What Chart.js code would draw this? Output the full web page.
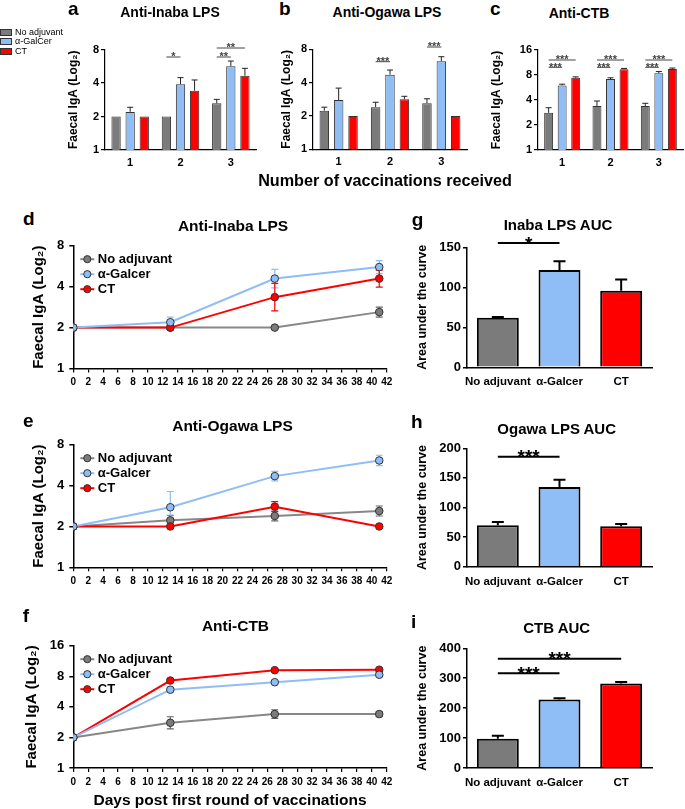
<!DOCTYPE html>
<html>
<head>
<meta charset="utf-8">
<script src="https://cdn.jsdelivr.net/npm/chart.js@4.4.0/dist/chart.umd.min.js"></script>
<style>
  body { margin: 0; background: #fff; }
  #fig { position: relative; width: 685px; height: 809px; overflow: hidden; font-family: 'Liberation Sans', Arial, sans-serif; color: #000; }
  #fig canvas { position: absolute; }
  .txt { position: absolute; font-weight: bold; line-height: 1; white-space: nowrap; }
  .box { position: absolute; border: 1px solid #333; box-sizing: border-box; }
</style>
</head>
<body>
<div id="fig"></div>
<script>
// ---------- data ----------
const rounds = ['1', '2', '3'];
const groupNames = ['No adjuvant', 'α-GalCer', 'CT'];
const lineNames = ['No adjuvant', 'α-Galcer', 'CT'];
const aucLabels = ['No adjuvant', 'α-Galcer', 'CT'];
const days = [0, 13, 27, 41];
const log2Ticks8 = [1, 2, 4, 8];
const log2Ticks16 = [1, 2, 4, 8, 16];

// a - anti-Inaba LPS per vaccination (mean and mean+SEM)
const inabaNoAdj = [2, 2, 2.63];
const inabaNoAdjHi = [2, 2, 2.85];
const inabaGal = [2.2, 3.9, 5.66];
const inabaGalHi = [2.42, 4.47, 6.3];
const inabaCT = [2, 3.41, 4.65];
const inabaCTHi = [2, 4.26, 5.42];

// b - anti-Ogawa LPS
const ogawaNoAdj = [2.23, 2.4, 2.61];
const ogawaNoAdjHi = [2.4, 2.66, 2.86];
const ogawaGal = [2.79, 4.72, 6.25];
const ogawaGalHi = [3.57, 5.2, 6.86];
const ogawaCT = [2, 2.83, 2];
const ogawaCTHi = [2, 3.01, 2];

// c - anti-CTB
const ctbNoAdj = [2.81, 3.39, 3.39];
const ctbNoAdjHi = [3.23, 3.89, 3.65];
const ctbGal = [6.0, 7.16, 8.4];
const ctbGalHi = [6.2, 7.4, 8.8];
const ctbCT = [7.4, 9.37, 9.45];
const ctbCTHi = [7.6, 9.6, 9.7];

// d - Inaba time course
const inabaNoAdjT = [2, 2, 2, 2.6];
const inabaNoAdjTHi = [2, 2.08, 2, 2.83];
const inabaGalT = [2, 2.19, 4.59, 5.58];
const inabaGalTHi = [2, 2.39, 5.37, 6.23];
const inabaCTT = [2, 2, 3.35, 4.59];
const inabaCTTHi = [2, 2, 4.23, 5.3];

// e - Ogawa time course
const ogawaNoAdjT = [2, 2.22, 2.39, 2.6];
const ogawaNoAdjTHi = [2, 2.42, 2.6, 2.83];
const ogawaGalT = [2, 2.77, 4.7, 6.13];
const ogawaGalTHi = [2, 3.62, 5.1, 6.7];
const ogawaCTT = [2, 2, 2.8, 2];
const ogawaCTTHi = [2, 2, 3.05, 2];

// f - CTB time course
const ctbNoAdjT = [2, 2.79, 3.4, 3.4];
const ctbNoAdjTHi = [2, 3.2, 3.75, 3.6];
const ctbGalT = [2, 5.91, 7.0, 8.3];
const ctbGalTHi = [2, 6.1, 7.2, 8.6];
const ctbCTT = [2, 7.27, 9.2, 9.3];
const ctbCTTHi = [2, 7.5, 9.4, 9.5];

// g, h, i - area under the curve
const inabaAuc = [62, 121.7, 95.8];
const inabaAucHi = [63, 132.5, 109.6];
const ogawaAuc = [70.2, 134.8, 68.5];
const ogawaAucHi = [75.3, 147, 72];
const ctbAuc = [97.8, 228.9, 282];
const ctbAucHi = [107.8, 233, 287.8];

// significance marks: [datasetIndex, pointIndex] ends
const inabaSig = [
  { text: '*', from: [0, 1], to: [1, 1] },
  { text: '**', from: [0, 2], to: [1, 2] },
  { text: '**', from: [0, 2], to: [2, 2] }
];
const ogawaSig = [
  { text: '***', from: [0, 1], to: [1, 1] },
  { text: '***', from: [0, 2], to: [1, 2] }
];
const ctbSig = [
  { text: '***', from: [0, 0], to: [1, 0] }, { text: '***', from: [0, 0], to: [2, 0] },
  { text: '***', from: [0, 1], to: [1, 1] }, { text: '***', from: [0, 1], to: [2, 1] },
  { text: '***', from: [0, 2], to: [1, 2] }, { text: '***', from: [0, 2], to: [2, 2] }
];
const inabaAucSig = [{ text: '*', from: [0, 0], to: [0, 1] }];
const ogawaAucSig = [{ text: '***', from: [0, 0], to: [0, 1] }];
const ctbAucSig = [{ text: '***', from: [0, 0], to: [0, 1] }, { text: '***', from: [0, 0], to: [0, 2] }];

// ---------- look ----------
const FONT = "'Liberation Sans', Arial, sans-serif";
const GRAY = '#7b7b7b', BLUE = '#8fbdf5', RED = '#ff0000';
const LINE_GRAY = '#878787';
Chart.defaults.font.family = FONT;
Chart.defaults.font.weight = 'bold';
Chart.defaults.color = '#000';
Chart.defaults.animation = false;

const fig = document.getElementById('fig');

// error bars: vertical whisker from point to mean+SEM (mirrored for line charts)
function drawErr(chart, opts) {
  const ctx = chart.ctx;
  chart.data.datasets.forEach((ds, i) => {
    if (!ds.errHi) return;
    const meta = chart.getDatasetMeta(i);
    const yScale = chart.scales[meta.yAxisID];
    ctx.save();
    ctx.strokeStyle = ds.errColor || opts.color;
    ctx.lineWidth = opts.width;
    meta.data.forEach((el, j) => {
      const yTop = yScale.getPixelForValue(ds.errHi[j]);
      if (el.y - yTop < 0.5) return;
      const yBot = opts.both ? 2 * el.y - yTop : el.y;
      ctx.beginPath();
      ctx.moveTo(el.x, yBot); ctx.lineTo(el.x, yTop);
      ctx.moveTo(el.x - opts.cap, yTop); ctx.lineTo(el.x + opts.cap, yTop);
      if (opts.both) { ctx.moveTo(el.x - opts.cap, yBot); ctx.lineTo(el.x + opts.cap, yBot); }
      ctx.stroke();
    });
    ctx.restore();
  });
}
const errorBars = {
  id: 'errorBars',
  beforeDatasetsDraw(chart, args, opts) { if (opts.under) drawErr(chart, opts); },
  afterDatasetsDraw(chart, args, opts) { if (opts.color && !opts.under) drawErr(chart, opts); }
};

// significance brackets with stars
const sigBars = {
  id: 'sigBars',
  afterDatasetsDraw(chart, args, opts) {
    if (!opts.items) return;
    const ctx = chart.ctx, top = chart.chartArea.top;
    ctx.save();
    ctx.strokeStyle = opts.color; ctx.fillStyle = opts.color; ctx.lineWidth = opts.width;
    ctx.font = 'bold ' + opts.size + 'px ' + FONT;
    ctx.textAlign = 'center'; ctx.textBaseline = 'alphabetic';
    opts.items.forEach((it, k) => {
      const xa = chart.getDatasetMeta(it.from[0]).data[it.from[1]].x;
      const xb = chart.getDatasetMeta(it.to[0]).data[it.to[1]].x;
      const y = top + opts.dy[k];
      ctx.beginPath(); ctx.moveTo(xa, y); ctx.lineTo(xb, y); ctx.stroke();
      ctx.fillText(it.text, (xa + xb) / 2, y + opts.size * 0.43 - 1.5);
    });
    ctx.restore();
  }
};

// in-plot legend for the time-course panels: short line, marker, label
const lineLegend = {
  id: 'lineLegend',
  afterDatasetsDraw(chart, args, opts) {
    if (!opts.names) return;
    const ctx = chart.ctx, a = chart.chartArea;
    ctx.save();
    ctx.font = 'bold 13px ' + FONT;
    ctx.textBaseline = 'middle'; ctx.textAlign = 'left';
    opts.names.forEach((name, k) => {
      const ds = chart.data.datasets[k];
      const x = a.left + opts.left, y = a.top + opts.top + k * opts.gap;
      ctx.strokeStyle = ds.borderColor; ctx.lineWidth = 2;
      ctx.beginPath(); ctx.moveTo(x, y); ctx.lineTo(x + 14, y); ctx.stroke();
      ctx.fillStyle = ds.pointBackgroundColor; ctx.strokeStyle = '#333'; ctx.lineWidth = 1;
      ctx.beginPath(); ctx.arc(x + 7, y, 3.6, 0, Math.PI * 2); ctx.fill(); ctx.stroke();
      ctx.fillStyle = '#000';
      ctx.fillText(name, x + 17.5, y + 0.5);
    });
    ctx.restore();
  }
};
Chart.register(errorBars, sigBars, lineLegend);

// canvas placed so that the plot area lands on g.l..g.r / g.t..g.b
function makeCanvas(g) {
  const L = Math.round(g.titleX - g.titleSize / 2);
  const T = Math.round(g.t - g.padTop);
  const W = Math.round(g.r + g.padRight - L);
  const H = Math.round(g.b + g.xH - T);
  const c = document.createElement('canvas');
  c.width = W; c.height = H;
  c.style.left = L + 'px'; c.style.top = T + 'px';
  fig.appendChild(c);
  return { c, yW: g.l - L, padTop: g.t - T, padRight: W - (g.r - L), xH: H - (g.b - T) };
}

function addText(str, x, baseline, size, align, weight) {
  const d = document.createElement('div');
  d.className = 'txt';
  d.textContent = str;
  d.style.fontSize = size + 'px';
  d.style.top = (baseline - 0.8465 * size) + 'px';
  if (weight) d.style.fontWeight = weight;
  d.style.left = x + 'px';
  if (align === 'center') d.style.transform = 'translateX(-50%)';
  fig.appendChild(d);
}

function logY(max, ticks, size, titleSize, tickPad, bw) {
  return {
    type: 'logarithmic', min: 1, max: max,
    afterBuildTicks: s => { s.ticks = ticks.map(v => ({ value: v })); },
    ticks: { font: { size: size }, padding: tickPad, callback: v => v },
    grid: { drawOnChartArea: false, tickLength: 4, color: '#000', lineWidth: bw },
    border: { color: '#000', width: bw },
    title: { display: true, text: 'Faecal IgA (Log₂)', font: { size: titleSize, lineHeight: 1 }, padding: 0 }
  };
}

// ---------- top row: a, b, c ----------
function topPanel(g, series, his, yMax, ticks, sig, dy) {
  const p = makeCanvas(g);
  const colors = [GRAY, BLUE, RED];
  const y = logY(yMax, ticks, 11, 12, 2, 1.2);
  y.afterFit = s => { s.width = p.yW; };
  new Chart(p.c, {
    type: 'bar',
    data: {
      labels: rounds,
      datasets: series.map((d, i) => ({
        label: groupNames[i], data: d, errHi: his[i],
        backgroundColor: colors[i], borderColor: '#333', borderWidth: 1, borderSkipped: 'start'
      }))
    },
    options: {
      responsive: false,
      layout: { padding: { top: p.padTop, right: p.padRight, left: 0, bottom: 0 } },
      datasets: { bar: { categoryPercentage: 0.84, barPercentage: 0.66 } },
      plugins: {
        legend: { display: false }, tooltip: { enabled: false },
        errorBars: { color: '#222', width: 1, cap: 3 },
        sigBars: { items: sig, dy: dy, size: 11, width: 1, color: '#444' }
      },
      scales: {
        x: {
          grid: { display: false, drawTicks: false }, border: { color: '#000', width: 1.2 },
          ticks: { font: { size: 11 }, padding: 6, maxRotation: 0, autoSkip: false },
          afterFit: s => { s.height = p.xH; }
        },
        y: y
      }
    }
  });
}

topPanel({ l: 105, r: 256, t: 49.5, b: 150, titleX: 74, titleSize: 12, padTop: 14, padRight: 4, xH: 22 },
  [inabaNoAdj, inabaGal, inabaCT], [inabaNoAdjHi, inabaGalHi, inabaCTHi], 8, log2Ticks8, inabaSig, [7.5, 7.5, -1.5]);
topPanel({ l: 313, r: 467, t: 49.3, b: 149.3, titleX: 287, titleSize: 12, padTop: 14, padRight: 4, xH: 22 },
  [ogawaNoAdj, ogawaGal, ogawaCT], [ogawaNoAdjHi, ogawaGalHi, ogawaCTHi], 8, log2Ticks8, ogawaSig, [12.4, -2.3]);
topPanel({ l: 538, r: 683, t: 50, b: 150, titleX: 497, titleSize: 12, padTop: 14, padRight: 2, xH: 22 },
  [ctbNoAdj, ctbGal, ctbCT], [ctbNoAdjHi, ctbGalHi, ctbCTHi], 16, log2Ticks16, ctbSig, [17.3, 10, 17.3, 10, 17.3, 10]);

// legend for the top row
[GRAY, BLUE, RED].forEach((col, i) => {
  const yc = [32.3, 41.7, 51.5][i];
  const b = document.createElement('div');
  b.className = 'box';
  Object.assign(b.style, { left: '0px', top: (yc - 3.5) + 'px', width: '12px', height: '7px', background: col });
  fig.appendChild(b);
  addText(groupNames[i], 15, yc + 3.3, 9, 'left', 'normal');
});

addText('a', 68, 15, 19); addText('b', 279, 15, 19); addText('c', 490, 15, 19);
addText('Anti-Inaba LPS', 170, 16.7, 14, 'center');
addText('Anti-Ogawa LPS', 387, 16.7, 14, 'center');
addText('Anti-CTB', 579, 18.3, 14, 'center');
addText('Number of vaccinations received', 385, 186, 16.2, 'center');

// ---------- left column: d, e, f ----------
function linePanel(g, series, his, yMax, ticks, xTitle) {
  const p = makeCanvas(g);
  const lineCols = [LINE_GRAY, BLUE, RED];
  const fillCols = [GRAY, BLUE, RED];
  const errCols = ['#666', BLUE, RED];
  const drawOrder = [2, 0, 1];
  const y = logY(yMax, ticks, 13, 15, 5, 1.5);
  y.afterFit = s => { s.width = p.yW; };
  new Chart(p.c, {
    type: 'line',
    data: {
      datasets: series.map((d, i) => ({
        label: lineNames[i],
        data: days.map((day, k) => ({ x: day, y: d[k] })),
        errHi: his[i], errColor: errCols[i], order: drawOrder[i],
        borderColor: lineCols[i], backgroundColor: fillCols[i], borderWidth: 2,
        pointBackgroundColor: fillCols[i], pointBorderColor: '#333', pointBorderWidth: 1, pointRadius: 3.8
      }))
    },
    options: {
      responsive: false,
      layout: { padding: { top: p.padTop, right: p.padRight, left: 0, bottom: 0 } },
      plugins: {
        tooltip: { enabled: false },
        legend: { display: false },
        errorBars: { under: true, color: '#666', width: 1.2, cap: 3.5, both: true },
        lineLegend: { names: lineNames, left: 7, top: 13.4, gap: 15 }
      },
      scales: {
        x: {
          type: 'linear', min: 0, max: 42,
          ticks: { stepSize: 2, autoSkip: false, maxRotation: 0, font: { size: 10 }, padding: 4 },
          grid: { drawOnChartArea: false, tickLength: 4, color: '#000', lineWidth: 1.2 },
          border: { color: '#000', width: 1.5 },
          title: { display: !!xTitle, text: xTitle || '', font: { size: 15.5, lineHeight: 1 }, padding: 0 },
          afterFit: s => { s.height = p.xH; }
        },
        y: y
      }
    }
  });
}

linePanel({ l: 73.3, r: 386.7, t: 243.3, b: 368.5, titleX: 38, titleSize: 15, padTop: 10, padRight: 10, xH: 22 },
  [inabaNoAdjT, inabaGalT, inabaCTT], [inabaNoAdjTHi, inabaGalTHi, inabaCTTHi], 8, log2Ticks8);
linePanel({ l: 73.3, r: 386.7, t: 442.3, b: 567.3, titleX: 38, titleSize: 15, padTop: 10, padRight: 10, xH: 22 },
  [ogawaNoAdjT, ogawaGalT, ogawaCTT], [ogawaNoAdjTHi, ogawaGalTHi, ogawaCTTHi], 8, log2Ticks8);
linePanel({ l: 73.3, r: 386.7, t: 642.7, b: 768, titleX: 31, titleSize: 15, padTop: 10, padRight: 10, xH: 40 },
  [ctbNoAdjT, ctbGalT, ctbCTT], [ctbNoAdjTHi, ctbGalTHi, ctbCTTHi], 16, log2Ticks16,
  'Days post first round of vaccinations');

addText('d', 23, 225, 19); addText('e', 23, 426.7, 19); addText('f', 22.7, 621.7, 19);
addText('Anti-Inaba LPS', 233, 231, 15.5, 'center');
addText('Anti-Ogawa LPS', 232.5, 430.7, 15.5, 'center');
addText('Anti-CTB', 235.5, 631, 15.5, 'center');

// ---------- right column: g, h, i ----------
function aucPanel(g, vals, hi, yMax, step, sig, dy) {
  const p = makeCanvas(g);
  new Chart(p.c, {
    type: 'bar',
    data: {
      labels: aucLabels,
      datasets: [{
        data: vals, errHi: hi,
        backgroundColor: [GRAY, BLUE, RED], borderColor: '#000', borderWidth: 2
      }]
    },
    options: {
      responsive: false,
      layout: { padding: { top: p.padTop, right: p.padRight, left: 0, bottom: 0 } },
      datasets: { bar: { categoryPercentage: 1, barPercentage: 0.68 } },
      plugins: {
        legend: { display: false }, tooltip: { enabled: false },
        errorBars: { color: '#000', width: 2, cap: 6 },
        sigBars: { items: sig, dy: dy, size: 19, width: 2, color: '#000' }
      },
      scales: {
        x: {
          grid: { display: false, drawTicks: false }, border: { color: '#000', width: 1.5 },
          ticks: { font: { size: 11.5 }, padding: 8, maxRotation: 0, minRotation: 0, autoSkip: false },
          afterFit: s => { s.height = p.xH; }
        },
        y: {
          min: 0, max: yMax,
          ticks: { stepSize: step, font: { size: 13 }, padding: 2 },
          grid: { drawOnChartArea: false, tickLength: 4, color: '#000', lineWidth: 1.5 },
          border: { color: '#000', width: 1.5 },
          title: { display: true, text: 'Area under the curve', font: { size: 12.5, lineHeight: 1 }, padding: 0 },
          afterFit: s => { s.width = p.yW; }
        }
      }
    }
  });
}

aucPanel({ l: 467, r: 652, t: 247.3, b: 367.3, titleX: 422, titleSize: 12.5, padTop: 14, padRight: 6, xH: 24 },
  inabaAuc, inabaAucHi, 150, 50, inabaAucSig, [-4.3]);
aucPanel({ l: 467, r: 652, t: 448.3, b: 566.7, titleX: 422, titleSize: 12.5, padTop: 14, padRight: 6, xH: 24 },
  ogawaAuc, ogawaAucHi, 200, 50, ogawaAucSig, [8.4]);
aucPanel({ l: 467, r: 652, t: 648.3, b: 768, titleX: 422, titleSize: 12.5, padTop: 14, padRight: 6, xH: 24 },
  ctbAuc, ctbAucHi, 400, 100, ctbAucSig, [25, 10.4]);

addText('g', 411.7, 226, 19); addText('h', 411, 428.3, 19); addText('i', 411, 628.3, 19);
addText('Inaba LPS AUC', 558, 230, 15, 'center');
addText('Ogawa LPS AUC', 556.7, 433.3, 15, 'center');
addText('CTB AUC', 556.7, 632.3, 15, 'center');
</script>
</body>
</html>
